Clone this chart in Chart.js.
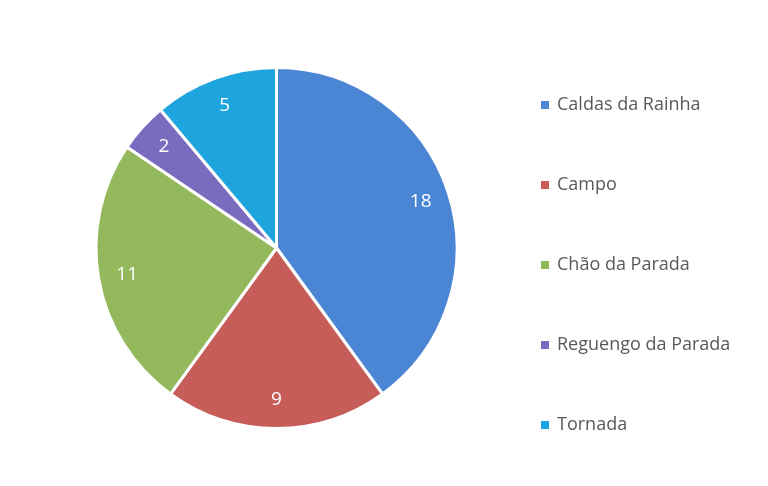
<!DOCTYPE html>
<html>
<head>
<meta charset="utf-8">
<script src="https://cdn.jsdelivr.net/npm/chart.js@4"></script>
<style>
  html, body { margin: 0; padding: 0; background: #fff; }
  #wrap { width: 768px; height: 486px; }
</style>
</head>
<body>
<div id="wrap"><canvas id="graficaPie" width="768" height="486"></canvas></div>
<script>
// ===============================
// DATOS
// ===============================
const localidades = ["Caldas da Rainha", "Campo", "Chão da Parada", "Reguengo da Parada", "Tornada"];
const totais = [18, 9, 11, 2, 5];
const cores = ["#4a86d4", "#c75d58", "#93b95c", "#7b6bbf", "#1ea5dd"];

// ===============================
// ETIQUETAS DENTRO DAS FATIAS
// ===============================
const etiquetas = {
    id: "etiquetas",
    afterDatasetsDraw(chart) {
        const ctx = chart.ctx;
        const meta = chart.getDatasetMeta(0);
        ctx.save();
        ctx.font = "19px 'Open Sans'";
        ctx.fillStyle = "#ffffff";
        ctx.textAlign = "center";
        ctx.textBaseline = "middle";
        meta.data.forEach((arc, i) => {
            const mid = (arc.startAngle + arc.endAngle) / 2;
            const r = arc.outerRadius * 0.84;
            ctx.fillText(String(chart.data.datasets[0].data[i]), arc.x + Math.cos(mid) * r, arc.y + Math.sin(mid) * r);
        });
        ctx.restore();
    }
};

// ===============================
// LEGENDA À DIREITA
// ===============================
const legenda = {
    id: "legenda",
    afterDraw(chart) {
        const ctx = chart.ctx;
        const ds = chart.data.datasets[0];
        ctx.save();
        ctx.font = "18px 'Open Sans'";
        ctx.textAlign = "left";
        ctx.textBaseline = "middle";
        chart.data.labels.forEach((lab, i) => {
            const y = 105 + i * 80;
            ctx.fillStyle = ds.backgroundColor[i];
            ctx.fillRect(541, y - 4, 8, 8);
            ctx.fillStyle = "#595959";
            ctx.fillText(lab, 557, y);
        });
        ctx.restore();
    }
};

new Chart(document.getElementById("graficaPie"), {
    type: "pie",
    data: {
        labels: localidades,
        datasets: [{
            data: totais,
            backgroundColor: cores,
            borderWidth: 3,
            borderColor: "#fff"
        }]
    },
    options: {
        responsive: false,
        animation: false,
        layout: { padding: { left: 94, right: 309, top: 66, bottom: 56 } },
        plugins: {
            legend: { display: false },
            tooltip: { enabled: false }
        }
    },
    plugins: [etiquetas, legenda]
});
</script>
</body>
</html>
